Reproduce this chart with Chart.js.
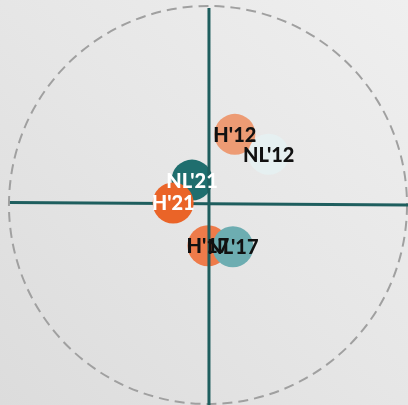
<!DOCTYPE html>
<html>
<head>
<meta charset="utf-8">
<script src="https://cdn.jsdelivr.net/npm/chart.js@4/dist/chart.umd.min.js"></script>
<style>
html,body{margin:0;padding:0;}
body{width:408px;height:405px;overflow:hidden;background:linear-gradient(45deg,#dcdcdc 0%,#e6e6e6 50%,#efefef 100%);}
canvas{display:block;}
</style>
</head>
<body>
<canvas id="c" width="408" height="405"></canvas>
<script>
// Data
const labels  = ["H'12", "NL'12", "NL'21", "H'21", "H'17", "NL'17"];
const xValues = [0.13, 0.30, -0.085, -0.18, -0.005, 0.12];
const yValues = [0.35, 0.25, 0.12, 0.005, -0.21, -0.215];
// Reference axes (crosshair) and outer circle
const hAxisX = [-1.0, 1.0];
const hAxisY = [0.0075, -0.005];
const vAxisX = [0, 0];
const vAxisY = [0.985, -1.01];
const circleCenter = [-0.005, -0.005];
const circleRadius = 1.0;

// Styles
const fillColors  = ['#ED9B74', '#E6F0F1', '#1F6E6E', '#EA6428', '#EE7B4A', '#6DADB1'];
const labelColors = ['#111111', '#111111', '#ffffff', '#ffffff', '#111111', '#111111'];
const bubbleR = 20.5;

const bubbles = labels.map((l, i) => ({x: xValues[i], y: yValues[i], r: bubbleR}));

const circlePlugin = {
  id: 'circle',
  beforeDatasetsDraw(chart) {
    const {ctx, scales: {x, y}} = chart;
    const cx = x.getPixelForValue(circleCenter[0]);
    const cy = y.getPixelForValue(circleCenter[1]);
    const r = x.getPixelForValue(circleCenter[0] + circleRadius) - cx;
    ctx.save();
    ctx.strokeStyle = '#a0a0a0';
    ctx.lineWidth = 2;
    ctx.setLineDash([10, 6]);
    ctx.beginPath();
    ctx.arc(cx, cy, r, 0, Math.PI * 2);
    ctx.stroke();
    ctx.restore();
  }
};

const labelPlugin = {
  id: 'bubbleLabels',
  afterDatasetsDraw(chart) {
    const {ctx} = chart;
    const idx = chart.data.datasets.findIndex(d => d.id === 'bubbles');
    const meta = chart.getDatasetMeta(idx);
    ctx.save();
    ctx.font = '900 20px Lato, "Open Sans", sans-serif';
    ctx.textAlign = 'center';
    ctx.textBaseline = 'middle';
    meta.data.forEach((el, i) => {
      ctx.fillStyle = labelColors[i];
      ctx.fillText(labels[i], el.x, el.y + 1);
    });
    ctx.restore();
  }
};

new Chart(document.getElementById('c'), {
  type: 'bubble',
  data: {
    datasets: [
      {
        type: 'line', order: -1,
        data: vAxisX.map((v, i) => ({x: v, y: vAxisY[i]})),
        borderColor: '#1E5E5E', borderWidth: 3, pointRadius: 0, fill: false
      },
      {
        id: 'bubbles', order: 1,
        data: bubbles,
        backgroundColor: fillColors,
        borderWidth: 0,
        hoverBorderWidth: 0
      },
      {
        type: 'line', order: 5,
        data: hAxisX.map((v, i) => ({x: v, y: hAxisY[i]})),
        borderColor: '#1E5E5E', borderWidth: 3, pointRadius: 0, fill: false
      }
    ]
  },
  options: {
    responsive: false,
    animation: false,
    layout: {padding: 0, autoPadding: false},
    plugins: {legend: {display: false}, tooltip: {enabled: false}},
    events: [],
    scales: {
      x: {type: 'linear', min: -1.05, max: 1.0, display: false},
      y: {type: 'linear', min: -1.01, max: 1.025, display: false}
    }
  },
  plugins: [circlePlugin, labelPlugin]
});
</script>
</body>
</html>
